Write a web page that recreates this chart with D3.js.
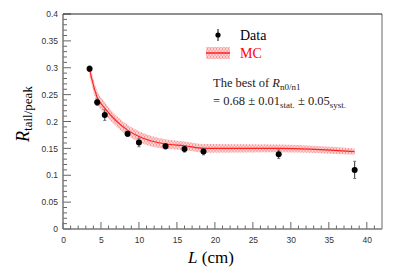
<!DOCTYPE html>
<html>
<head>
  <meta charset="utf-8">
  <script src="https://cdn.jsdelivr.net/npm/d3@7"></script>
  <style>
    body { margin: 0; background: #fff; }
    .tick text { font-family: "Liberation Sans", Arial, sans-serif; font-size: 8.5px; fill: #333; }
    .serif { font-family: "Liberation Serif", "DejaVu Serif", serif; }
  </style>
</head>
<body>
  <svg id="chart" width="407" height="279"></svg>
  <script>
    // data
    var lengths = [3.5, 4.5, 5.5, 8.5, 10, 13.5, 16, 18.5, 28.4, 38.4];
    var dataRatio = [0.298, 0.236, 0.212, 0.177, 0.161, 0.154, 0.149, 0.144, 0.139, 0.110];
    var dataErr = [0.005, 0.006, 0.010, 0.005, 0.008, 0.005, 0.006, 0.006, 0.008, 0.016];
    var mcRatio = [0.296, 0.245, 0.225, 0.184, 0.172, 0.158, 0.155, 0.150, 0.150, 0.144];
    var mcErr = [0.012, 0.012, 0.011, 0.010, 0.010, 0.009, 0.008, 0.008, 0.007, 0.006];
    var yTicks = [0, 0.05, 0.1, 0.15, 0.2, 0.25, 0.3, 0.35, 0.4];
    var xTicks = [0, 5, 10, 15, 20, 25, 30, 35, 40];

    var svg = d3.select("#chart");
    var plotL = 63, plotR = 382, plotT = 14, plotB = 229;

    var x = d3.scaleLinear().domain([0, 42]).range([plotL, plotR]);
    var y = d3.scaleLinear().domain([0, 0.4]).range([plotB, plotT]);

    // hatch pattern for the MC band
    var defs = svg.append("defs");
    var pat = defs.append("pattern")
      .attr("id", "hatch")
      .attr("patternUnits", "userSpaceOnUse")
      .attr("width", 3).attr("height", 4);
    pat.append("path").attr("d", "M0.5,0 L0.5,2 M2,2 L2,4 M0,3 L3,3 M0,1 L3,1")
      .attr("stroke", "#f48a8a").attr("stroke-width", 0.8);

    var mc = lengths.map(function (d, i) { return { x: d, y: mcRatio[i], e: mcErr[i] }; });

    svg.append("path")
      .datum(mc)
      .attr("fill", "url(#hatch)")
      .attr("d", d3.area()
        .x(function (d) { return x(d.x); })
        .y0(function (d) { return y(d.y - d.e); })
        .y1(function (d) { return y(d.y + d.e); })
        .curve(d3.curveMonotoneX));

    svg.append("path")
      .datum(mc)
      .attr("fill", "none")
      .attr("stroke", "#ff2020")
      .attr("stroke-width", 1.1)
      .attr("d", d3.line()
        .x(function (d) { return x(d.x); })
        .y(function (d) { return y(d.y); })
        .curve(d3.curveMonotoneX));

    // axes
    var yAxis = d3.axisLeft(y).tickValues(yTicks).tickSize(0).tickPadding(5)
      .tickFormat(function (d) { return d === 0 ? "0" : d3.format("~g")(d); });
    var yg = svg.append("g").attr("transform", "translate(" + plotL + ",0)").call(yAxis);
    var xAxis = d3.axisBottom(x).tickValues(xTicks).tickSize(0).tickPadding(8);
    var xg = svg.append("g").attr("transform", "translate(0," + plotB + ")").call(xAxis);

    [yg, xg].forEach(function (g) {
      g.select(".domain").remove();
      g.selectAll(".tick line").remove();
    });

    // major and minor ticks, drawn inward
    svg.append("g").selectAll("line")
      .data(d3.range(0, 41, 1))
      .enter().append("line")
      .attr("x1", plotL)
      .attr("x2", function (d) { return plotL + (d % 5 === 0 ? 8 : 4); })
      .attr("y1", function (d) { return y(d / 100); })
      .attr("y2", function (d) { return y(d / 100); })
      .attr("stroke", "#666");
    svg.append("g").selectAll("line")
      .data(d3.range(0, 42, 1))
      .enter().append("line")
      .attr("x1", function (d) { return x(d); })
      .attr("x2", function (d) { return x(d); })
      .attr("y1", plotB)
      .attr("y2", function (d) { return plotB - (d % 5 === 0 ? 7 : 3.5); })
      .attr("stroke", "#666");

    // frame
    svg.append("line").attr("x1", plotL).attr("x2", plotL).attr("y1", plotT).attr("y2", plotB)
      .attr("stroke", "#777").attr("stroke-width", 1.5);
    svg.append("line").attr("x1", plotL).attr("x2", plotR).attr("y1", plotB).attr("y2", plotB)
      .attr("stroke", "#777").attr("stroke-width", 1.5);
    svg.append("line").attr("x1", plotR).attr("x2", plotR).attr("y1", plotT).attr("y2", plotB)
      .attr("stroke", "#999").attr("stroke-width", 1.5);
    svg.append("line").attr("x1", plotL).attr("x2", plotR).attr("y1", plotT).attr("y2", plotT)
      .attr("stroke", "#222").attr("stroke-width", 1.2);

    // data points with error bars
    var pts = svg.append("g").selectAll("g")
      .data(lengths.map(function (d, i) { return { x: d, y: dataRatio[i], e: dataErr[i] }; }))
      .enter().append("g");
    pts.append("line")
      .attr("x1", function (d) { return x(d.x); })
      .attr("x2", function (d) { return x(d.x); })
      .attr("y1", function (d) { return y(d.y - d.e); })
      .attr("y2", function (d) { return y(d.y + d.e); })
      .attr("stroke", "#333").attr("stroke-width", 1);
    [-1, 1].forEach(function (s) {
      pts.append("line")
        .attr("x1", function (d) { return x(d.x) - 1.5; })
        .attr("x2", function (d) { return x(d.x) + 1.5; })
        .attr("y1", function (d) { return y(d.y + s * d.e); })
        .attr("y2", function (d) { return y(d.y + s * d.e); })
        .attr("stroke", "#777").attr("stroke-width", 1);
    });
    pts.append("circle")
      .attr("cx", function (d) { return x(d.x); })
      .attr("cy", function (d) { return y(d.y); })
      .attr("r", 3).attr("fill", "#000");

    // legend
    svg.append("line").attr("x1", 218).attr("x2", 218).attr("y1", 29).attr("y2", 41)
      .attr("stroke", "#000").attr("stroke-width", 1);
    svg.append("circle").attr("cx", 218).attr("cy", 35).attr("r", 2.6).attr("fill", "#000");
    svg.append("text").attr("class", "serif").attr("x", 240).attr("y", 40)
      .attr("font-size", 14).attr("fill", "#000").text("Data");
    svg.append("rect").attr("x", 206).attr("y", 47).attr("width", 24).attr("height", 12)
      .attr("fill", "url(#hatch)");
    svg.append("line").attr("x1", 206).attr("x2", 230).attr("y1", 53).attr("y2", 53)
      .attr("stroke", "#ff2020").attr("stroke-width", 1.5);
    svg.append("text").attr("class", "serif").attr("x", 240).attr("y", 58)
      .attr("font-size", 14).attr("fill", "#ff0000").text("MC");

    var t1 = svg.append("text").attr("class", "serif").attr("x", 213).attr("y", 87)
      .attr("font-size", 12.5).attr("fill", "#222");
    t1.append("tspan").text("The best of ");
    t1.append("tspan").attr("font-style", "italic").text("R");
    t1.append("tspan").attr("font-size", 9).attr("dy", 2.5).text("n0/n1");

    var t2 = svg.append("text").attr("class", "serif").attr("x", 213).attr("y", 105)
      .attr("font-size", 12.5).attr("fill", "#222");
    t2.append("tspan").text("= 0.68 \u00b1 0.01");
    t2.append("tspan").attr("font-size", 9).attr("dy", 2.5).text("stat.");
    t2.append("tspan").attr("dy", -2.5).text(" \u00b1 0.05");
    t2.append("tspan").attr("font-size", 9).attr("dy", 2.5).text("syst.");

    // axis titles
    var yl = svg.append("text").attr("class", "serif")
      .attr("transform", "translate(29,114) rotate(-90)")
      .attr("text-anchor", "middle").attr("font-size", 15).attr("fill", "#000");
    yl.append("tspan").attr("font-style", "italic").attr("font-size", 18).text("R");
    yl.append("tspan").attr("font-size", 13).attr("dy", 3).text("tail/peak");

    var xl = svg.append("text").attr("class", "serif")
      .attr("x", 211).attr("y", 263)
      .attr("text-anchor", "middle").attr("font-size", 17).attr("fill", "#000");
    xl.append("tspan").attr("font-style", "italic").text("L");
    xl.append("tspan").text(" (cm)");
  </script>
</body>
</html>
